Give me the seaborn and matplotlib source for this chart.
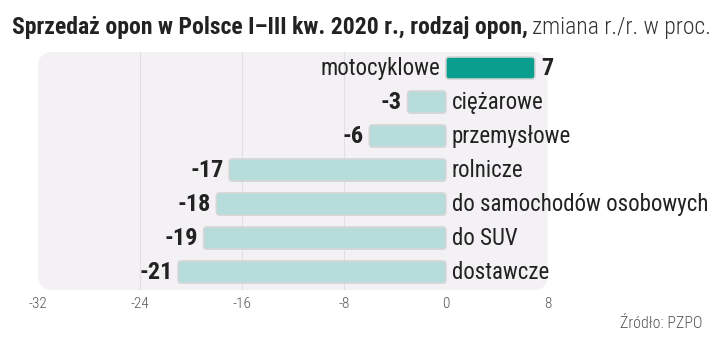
import seaborn as sns
import matplotlib.pyplot as plt
from matplotlib.patches import FancyBboxPatch

categories = ['motocyklowe', 'ciężarowe', 'przemysłowe', 'rolnicze',
              'do samochodów osobowych', 'do SUV', 'dostawcze']
values = [7, -3, -6, -17, -18, -19, -21]
bar_colors = ['#0a9e8e', '#b6dcdb', '#b6dcdb', '#b6dcdb', '#b6dcdb', '#b6dcdb', '#b6dcdb']
ticks = [-32, -24, -16, -8, 0, 8]

sns.set_style('white')
plt.rcParams['font.family'] = ['Roboto Condensed', 'DejaVu Sans']

fig = plt.figure(figsize=(7.2, 3.59), dpi=100)
ax = fig.add_axes([0.0528, 0.192, 0.708, 0.663])

sns.barplot(x=values, y=categories, hue=categories, palette=bar_colors,
            saturation=1, legend=False, orient='h', width=0.65, ax=ax)

# swap plain bars for rounded ones
for p in list(ax.patches):
    x, y, w, h = p.get_x(), p.get_y(), p.get_width(), p.get_height()
    fc = p.get_facecolor()
    p.remove()
    if w < 0:
        x, w = x + w, -w
    ax.add_patch(FancyBboxPatch((x, y), w, h,
                                boxstyle='round,pad=0,rounding_size=0.25',
                                mutation_aspect=0.38, facecolor=fc,
                                edgecolor='#d6d6d6', linewidth=1.2, zorder=3))

ax.set_xlim(-32, 8)
ax.set_ylim(6.53, -0.47)
ax.patch.set_visible(False)
for s in ax.spines.values():
    s.set_visible(False)

bg = FancyBboxPatch((0, 0), 1, 1, transform=ax.transAxes,
                    boxstyle='round,pad=0,rounding_size=0.03',
                    mutation_aspect=2.1,
                    facecolor='#f3f1f4', edgecolor='none', zorder=0)
ax.add_patch(bg)
for t in [-24, -16, -8]:
    ax.axvline(t, color='#e2dfe3', linewidth=0.8, zorder=1)

ax.set_xticks(ticks)
ax.set_xticklabels([str(t) for t in ticks], fontsize=11, color='#555555',
                   fontweight='light')
ax.tick_params(axis='x', length=0, pad=5)
ax.set_yticks([])
ax.set_ylabel('')

for i, (c, v) in enumerate(zip(categories, values)):
    if v >= 0:
        ax.text(-0.4, i, c, ha='right', va='center', fontsize=16.5, color='#222222')
        ax.text(v + 0.45, i, str(v), ha='left', va='center', fontsize=17.5,
                fontweight='bold', color='#222222')
    else:
        ax.text(0.45, i, c, ha='left', va='center', fontsize=16.5, color='#222222')
        ax.text(v - 0.45, i, str(v), ha='right', va='center', fontsize=17.5,
                fontweight='bold', color='#222222')

t1 = fig.text(0.017, 0.905, 'Sprzedaż opon w Polsce I–III kw. 2020 r., rodzaj opon,',
              fontsize=17, fontweight='bold', color='#222222', va='baseline')
fig.canvas.draw()
bb = t1.get_window_extent()
fig.text(bb.x1 / fig.bbox.width + 0.006, 0.905, 'zmiana r./r. w proc.',
         fontsize=17, fontweight='light', color='#333333', va='baseline')

fig.text(0.975, 0.085, 'Źródło: PZPO', fontsize=11.5, fontweight='light',
         color='#555555', ha='right')

fig.savefig('out.png', dpi=100)
